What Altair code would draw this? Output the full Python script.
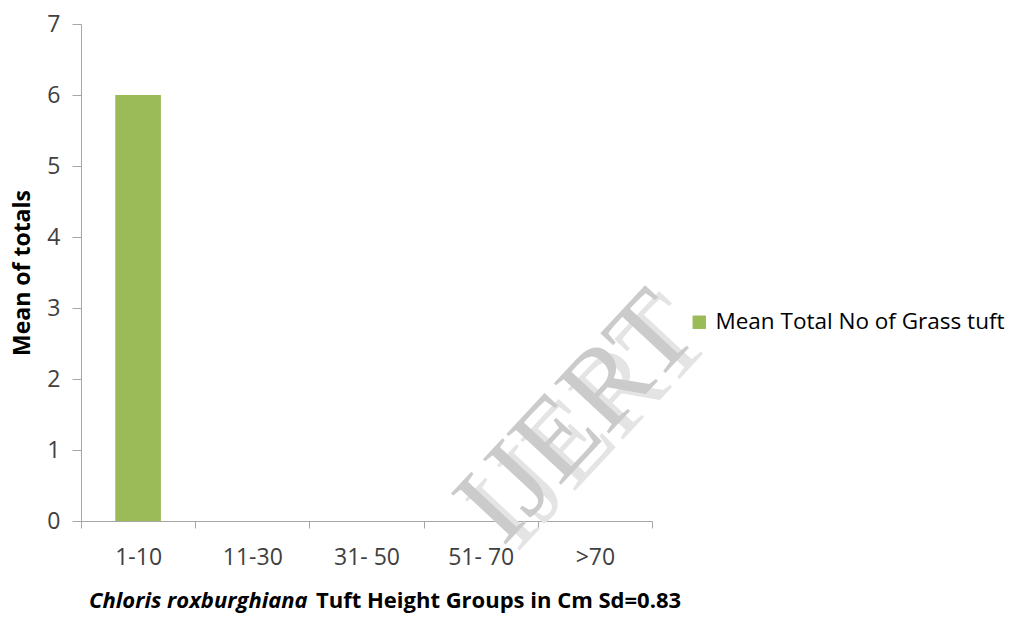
import altair as alt
import pandas as pd

# Tuft height groups and the mean count in each
groups = ["1-10", "11-30", "31- 50", "51- 70", ">70"]
mean_totals = [6, 0, 0, 0, 0]
series_name = "Mean Total No of Grass tuft"

title_italic = "Chloris roxburghiana"
title_rest = "Tuft Height Groups in Cm  Sd=0.83"
y_title = "Mean of totals"
watermark = "IJERT"

FONT = "Open Sans"
GREEN = "#9BBB59"
AXIS_GREY = "#A6A6A6"
TEXT = "#404040"

df = pd.DataFrame({"group": groups, "value": mean_totals, "series": series_name})

W, H = 571, 497
PAD_L, PAD_T = 81, 24

bars = alt.Chart(df).mark_bar(width={"band": 0.4}).encode(
    x=alt.X(
        "group:N",
        sort=groups,
        scale=alt.Scale(paddingInner=0, paddingOuter=0),
        axis=alt.Axis(
            title=None,
            labelAngle=0,
            labelFont=FONT,
            labelFontSize=23,
            labelColor=TEXT,
            labelPadding=18,
            tickBand="extent",
            tickSize=7,
            tickColor=AXIS_GREY,
            domainColor=AXIS_GREY,
            grid=False,
        ),
    ),
    y=alt.Y(
        "value:Q",
        scale=alt.Scale(domain=[0, 7], nice=False),
        axis=alt.Axis(
            values=list(range(0, 8)),
            title=y_title,
            titleFont=FONT,
            titleFontSize=23,
            titleFontWeight="bold",
            titleColor="#000000",
            titlePadding=12,
            labelFont=FONT,
            labelFontSize=23,
            labelColor=TEXT,
            labelPadding=12,
            tickSize=9,
            tickColor=AXIS_GREY,
            domainColor=AXIS_GREY,
            grid=False,
        ),
    ),
    color=alt.Color(
        "series:N",
        scale=alt.Scale(range=[GREEN]),
        legend=alt.Legend(
            title=None,
            orient="none",
            legendX=607,
            legendY=287,
            symbolType="square",
            symbolSize=180,
            symbolStrokeWidth=0,
            labelFont=FONT,
            labelFontSize=22.5,
            labelColor="#000000",
            labelOffset=5,
            labelLimit=400,
        ),
    ),
)

title_a = alt.Chart(pd.DataFrame({"t": [title_italic]})).mark_text(
    align="left", baseline="alphabetic", font=FONT, fontSize=22,
    fontWeight="bold", fontStyle="italic", color="#000000",
).encode(x=alt.value(8), y=alt.value(H + 87), text="t:N")

title_b = alt.Chart(pd.DataFrame({"t": [title_rest]})).mark_text(
    align="left", baseline="alphabetic", font=FONT, fontSize=22,
    fontWeight="bold", color="#000000",
).encode(x=alt.value(235), y=alt.value(H + 87), text="t:N")

# watermark: a pale offset copy under a grey one
wm_df = pd.DataFrame({"t": [watermark]})
wm_shadow = alt.Chart(wm_df).mark_text(
    align="center", baseline="middle", font="Liberation Serif", fontSize=114,
    color="#E4E4E4", angle=313,
).encode(x=alt.value(510), y=alt.value(400), text="t:N")
wm_main = alt.Chart(wm_df).mark_text(
    align="center", baseline="middle", font="Liberation Serif", fontSize=114,
    color="#CBCBCB", angle=313,
).encode(x=alt.value(496), y=alt.value(394), text="t:N")

chart = (
    alt.layer(bars, wm_shadow, wm_main, title_a, title_b)
    .properties(
        width=W,
        height=H,
        background="white",
        autosize=alt.AutoSizeParams(type="none"),
        padding={"left": PAD_L, "top": PAD_T,
                 "right": 1011 - PAD_L - W, "bottom": 617 - PAD_T - H},
    )
    .configure_view(strokeWidth=0, stroke="transparent")
)

chart.save("out.html", embed_options={"renderer": "svg", "actions": False})
